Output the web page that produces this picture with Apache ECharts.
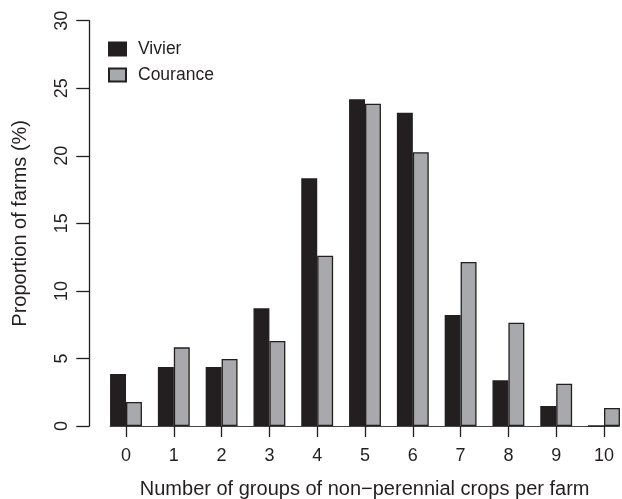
<!DOCTYPE html>
<html>
<head>
<meta charset="utf-8">
<script src="https://cdn.jsdelivr.net/npm/echarts@6/dist/echarts.min.js"></script>
<style>
html,body{margin:0;padding:0;background:#fff;}
#chart{width:622px;height:499px;}
</style>
</head>
<body>
<div id="chart"></div>
<script>
var categories = [0, 1, 2, 3, 4, 5, 6, 7, 8, 9, 10];
var vivier = [3.85, 4.37, 4.37, 8.71, 18.33, 24.18, 23.19, 8.22, 3.38, 1.48, 0];
var courance = [1.78, 5.82, 4.96, 6.29, 12.6, 23.86, 20.26, 12.14, 7.65, 3.13, 1.33];
var yTicks = [0, 5, 10, 15, 20, 25, 30];
var seriesNames = ['Vivier', 'Courance'];

var ink = '#231f20';
var font = 'Liberation Sans, Arial, Helvetica, sans-serif';

function pairs(vals) {
  return categories.map(function (c, i) { return [c, vals[i]]; });
}

var chart = echarts.init(document.getElementById('chart'), null, {renderer: 'canvas'});
chart.setOption({
  animation: false,
  backgroundColor: '#ffffff',
  textStyle: {fontFamily: font, color: ink},
  grid: {left: 110, right: 2.7, top: 20.7, bottom: 73, containLabel: false, outerBoundsMode: 'none'},
  legend: {
    orient: 'vertical',
    left: 108, top: 40,
    padding: 0,
    itemWidth: 17, itemHeight: 13,
    itemGap: 8,
    icon: 'rect',
    data: seriesNames,
    textStyle: {fontFamily: font, fontSize: 17.5, color: ink, lineHeight: 17, padding: [0, 0, 0, 7]}
  },
  xAxis: {
    type: 'value',
    min: -0.335, max: 10.32,
    name: 'Number of groups of non\u2212perennial crops per farm',
    nameLocation: 'middle',
    nameGap: 53,
    nameTextStyle: {fontFamily: font, fontSize: 20, color: ink},
    axisLine: {show: true, onZero: true, lineStyle: {color: '#444', width: 1}},
    axisTick: {show: true, customValues: categories, length: 11, inside: false, lineStyle: {color: ink, width: 1.3}},
    axisLabel: {show: true, customValues: categories, margin: 21.5, fontFamily: font, fontSize: 18, color: ink},
    splitLine: {show: false}
  },
  yAxis: {
    type: 'value',
    min: 0, max: 30, interval: 5,
    offset: 20.7,
    name: 'Proportion of farms (%)',
    nameLocation: 'middle',
    nameGap: 59,
    nameRotate: 90,
    nameTextStyle: {fontFamily: font, fontSize: 20, color: ink},
    axisLine: {show: true, onZero: false, lineStyle: {color: ink, width: 1.3}},
    axisTick: {show: true, customValues: yTicks, length: 13, lineStyle: {color: ink, width: 1.3}},
    axisLabel: {show: true, customValues: yTicks, rotate: 90, margin: 18.6, fontFamily: font, fontSize: 18, color: ink},
    splitLine: {show: false}
  },
  series: [
    {
      name: seriesNames[0], type: 'bar', data: pairs(vivier),
      barGap: '0%', barCategoryGap: '33.33%',
      itemStyle: {color: ink, borderColor: ink, borderWidth: 1.3}
    },
    {
      name: seriesNames[1], type: 'bar', data: pairs(courance),
      barGap: '0%', barCategoryGap: '33.33%',
      itemStyle: {color: '#a7a9ac', borderColor: ink, borderWidth: 1.3}
    }
  ]
});
</script>
</body>
</html>
